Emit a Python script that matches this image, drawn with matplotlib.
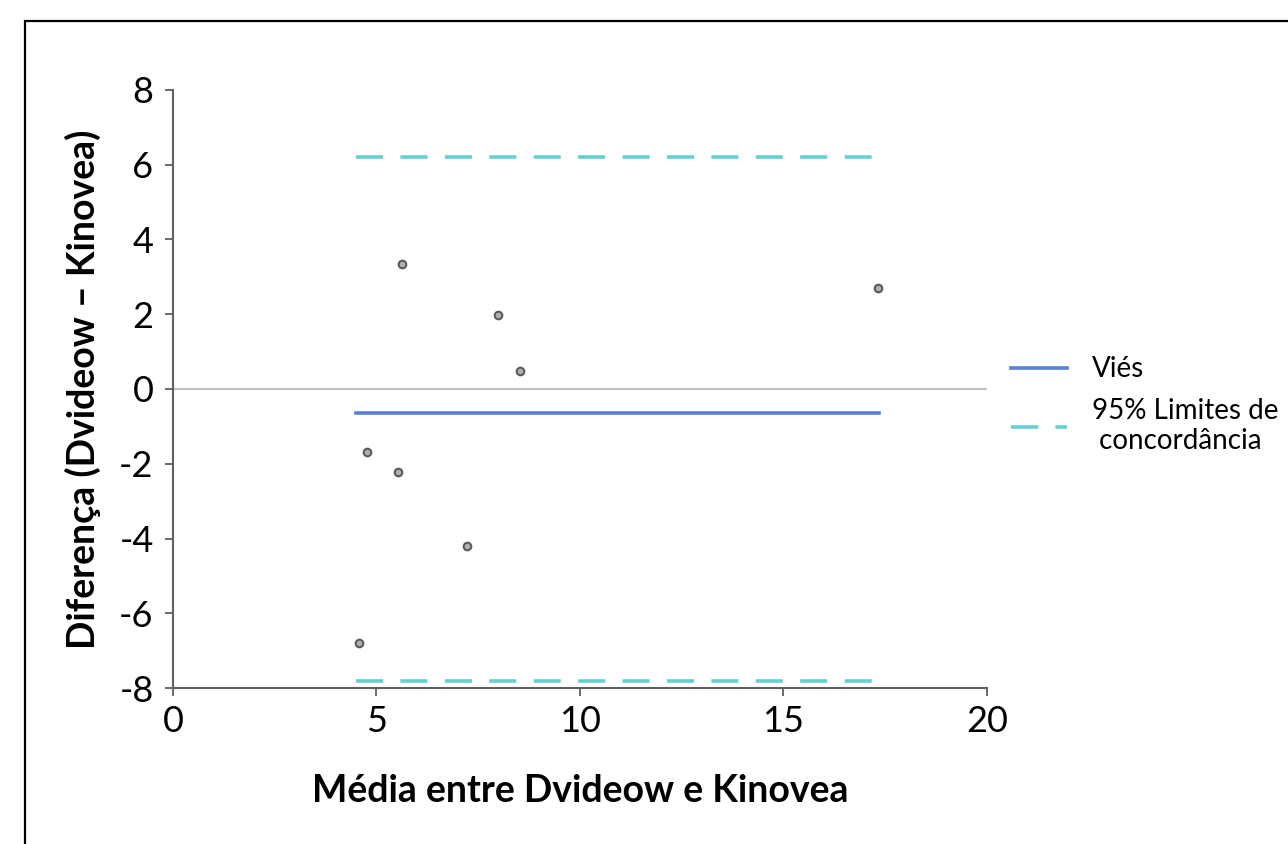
import numpy as np
import matplotlib.pyplot as plt
from matplotlib.patches import Rectangle

# Bland-Altman data
media = [5.63, 7.99, 8.53, 17.32, 4.77, 5.53, 7.22, 4.57]
diferenca = [3.34, 1.98, 0.48, 2.70, -1.69, -2.22, -4.20, -6.80]
vies = -0.64
lim_sup = 6.2
lim_inf = -7.8
x_ticks = [0, 5, 10, 15, 20]
y_ticks = [-8, -6, -4, -2, 0, 2, 4, 6, 8]

plt.rcParams['font.family'] = ['Lato', 'DejaVu Sans']

fig = plt.figure(figsize=(12.88, 8.44), dpi=100)
ax = fig.add_axes([0.1343, 0.1848, 0.632, 0.7086])

# outer frame that runs off the right and bottom edges
fig.patches.append(Rectangle((25 / 1288, -0.1), 1.2, 1 - 21 / 844 + 0.1,
                             transform=fig.transFigure, fill=False,
                             edgecolor='black', linewidth=1.6))

x0, x1 = min(media) - 0.07, max(media) + 0.03
ax.axhline(0, color='#bfbfbf', linewidth=1.5, zorder=1)
ax.plot([x0, x1], [vies, vies], color='#5b7fd6', linewidth=2.6, label='Viés')
ax.plot([x0, x1], [lim_sup, lim_sup], color='#66d0d0', linewidth=2.6,
        dashes=(7.5, 4.8), label='95% Limites de\n concordância')
ax.plot([x0, x1], [lim_inf, lim_inf], color='#66d0d0', linewidth=2.6,
        dashes=(7.5, 4.8))
ax.scatter(media, diferenca, s=30, facecolor='#b0b0b0', edgecolor='#5a5a5a',
           linewidth=1.5, zorder=3)

ax.set_xlim(0, 20)
ax.set_ylim(-8, 8)
ax.set_xticks(x_ticks)
ax.set_yticks(y_ticks)
ax.set_xticklabels([str(t) for t in x_ticks])
ax.set_yticklabels([str(t) for t in y_ticks])
ax.tick_params(labelsize=26, length=6, width=1.3, color='#606060')
ax.tick_params(axis='x', pad=6)
ax.tick_params(axis='y', pad=8)
for s in ['top', 'right']:
    ax.spines[s].set_visible(False)
for s in ['left', 'bottom']:
    ax.spines[s].set_color('#606060')
    ax.spines[s].set_linewidth(1.5)

ax.set_xlabel('Média entre Dvideow e Kinovea', fontsize=27, fontweight='bold',
              labelpad=26)
ax.set_ylabel('Diferença (Dvideow \u2013 Kinovea)', fontsize=27,
              fontweight='bold', labelpad=13)

ax.legend(loc='center left', bbox_to_anchor=(1.03, 0.473), frameon=False,
          fontsize=20, handlelength=2.0, handletextpad=0.9, labelspacing=0.55,
          borderpad=0, borderaxespad=0)

fig.savefig('out.png', dpi=100)
